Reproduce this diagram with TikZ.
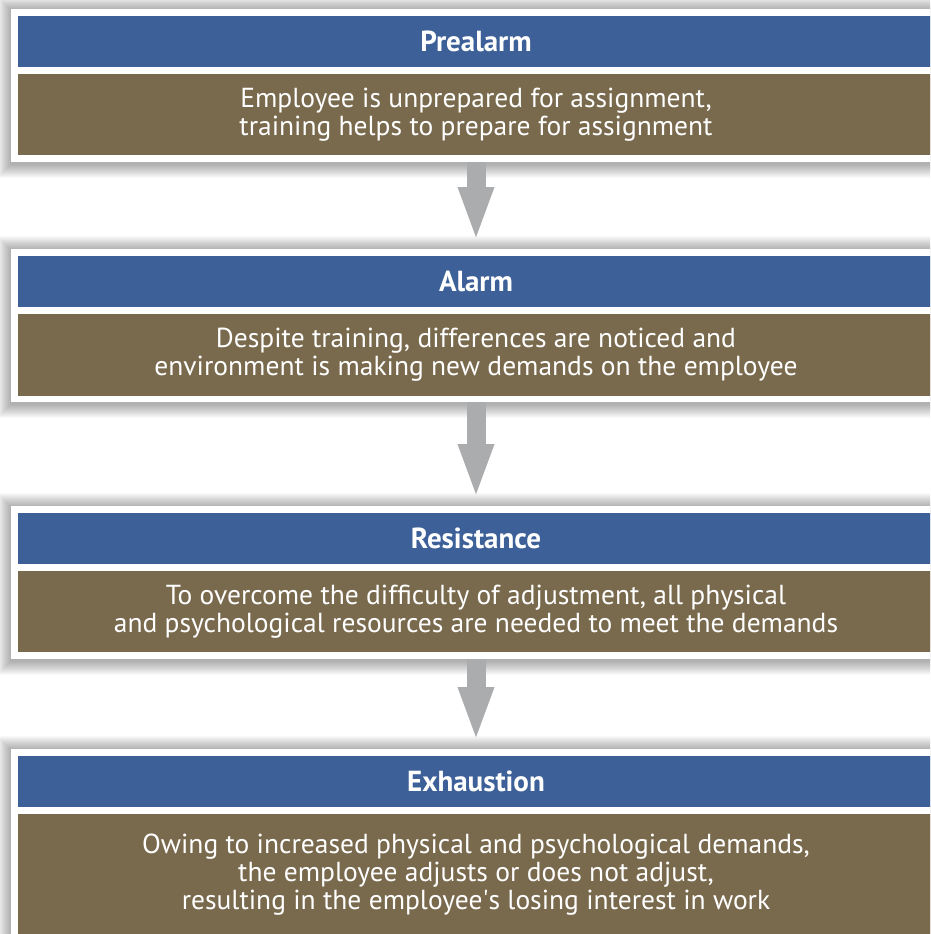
\documentclass[tikz,border=0pt]{standalone}
\usepackage{fontspec}
\setmainfont{PT Sans}
\usetikzlibrary{arrows.meta}
\definecolor{hdrblue}{HTML}{3D6098}
\definecolor{bodybrown}{HTML}{796A4E}
\definecolor{arrowgray}{HTML}{ABACAE}
\newcommand\panelshadow[2]{%
  \foreach \i in {1,...,14}{%
    \fill[black, opacity=0.022] (11-\i,#1-\i+1) rectangle (941+\i,#2+\i+2);
  }}
\begin{document}
\begin{tikzpicture}[x=1pt,y=-1pt,
  frame/.style={fill=white, draw=none, minimum width=930, anchor=north west, inner sep=0, outer sep=0},
  hdr/.style={fill=hdrblue, text=white, font=\bfseries\fontsize{29}{30}\selectfont, minimum width=916, minimum height=51, anchor=north west, inner sep=0, outer sep=0},
  body/.style={fill=bodybrown, text=white, font=\fontsize{27.5}{28}\selectfont, minimum width=916, align=center, anchor=north west, inner sep=0, outer sep=0},
  flow/.style={draw=arrowgray, line width=19, -{Triangle[width=32,length=55,fill=arrowgray]}, shorten >=7}
]
\useasboundingbox (0,0) rectangle (930,934);
\clip (0,0) rectangle (930,934);
\fill[white] (0,0) rectangle (930,934);
\panelshadow{9}{162}
\panelshadow{249}{402}
\panelshadow{506}{659}
\panelshadow{749}{943}

\node[frame, minimum height=153] (p1) at (11,9) {};
\node[hdr] (h1) at (18,16) {Prealarm};
\node[body, minimum height=81] (b1) at (18,74) {Employee is unprepared for assignment,\\training helps to prepare for assignment};

\node[frame, minimum height=153] (p2) at (11,249) {};
\node[hdr] (h2) at (18,256) {Alarm};
\node[body, minimum height=82] (b2) at (18,314) {Despite training, differences are noticed and\\environment is making new demands on the employee};

\node[frame, minimum height=153] (p3) at (11,506) {};
\node[hdr] (h3) at (18,513) {Resistance};
\node[body, minimum height=81] (b3) at (18,571) {To overcome the difficulty of adjustment, all physical\\and psychological resources are needed to meet the demands};

\node[frame, minimum height=194] (p4) at (11,749) {};
\node[hdr] (h4) at (18,756) {Exhaustion};
\node[body, minimum height=122] (b4) at (18,814) {Owing to increased physical and psychological demands,\\the employee adjusts or does not adjust,\\resulting in the employee\textquotesingle s losing interest in work};

\draw[flow] (p1.south) -- (p2.north);
\draw[flow] (p2.south) -- (p3.north);
\draw[flow] (p3.south) -- (p4.north);
\end{tikzpicture}
\end{document}
